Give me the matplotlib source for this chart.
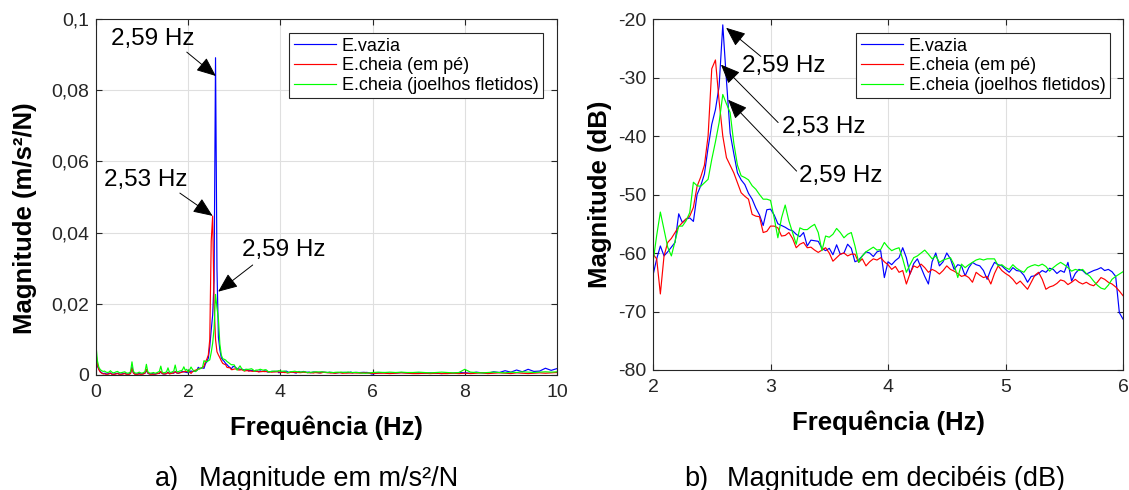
import numpy as np
import matplotlib
matplotlib.use("Agg")
import matplotlib.pyplot as plt
from matplotlib.ticker import FuncFormatter

plt.rcParams['font.family'] = ['Liberation Sans', 'DejaVu Sans']

labels = ["E.vazia", "E.cheia (em pé)", "E.cheia (joelhos fletidos)"]
colors = ["#0000ff", "#ff0000", "#00ff00"]

# frequency resolution of the FRF (Hz)
DF = 1 / 32

# 0 - 2 Hz, magnitude in 1e-3 m/s²/N (step DF)
mag_low_vazia = [4.5, 2.5, 1.6, 1.0, 0.6, 0.4, 0.5, 0.3, 0.3, 0.4, 0.6, 0.3, 0.2, 0.3, 0.4, 0.5,
                 0.3, 0.2, 0.3, 0.4, 0.5, 0.3, 0.2, 0.3, 0.5, 2.2, 0.6, 0.3, 0.2, 0.3, 0.4, 0.3,
                 0.3, 0.4, 0.5, 1.3, 0.5, 0.3, 0.3, 0.4, 0.3, 0.2, 0.4, 0.5, 0.4, 0.9, 0.4, 0.3,
                 0.3, 0.4, 0.8, 0.4, 0.5, 0.6, 0.5, 1.0, 0.6, 0.5, 0.6, 0.8, 1.0, 0.9, 0.8, 0.7]
mag_low_empe = [6.2, 3.0, 1.5, 0.8, 0.5, 0.3, 0.3, 0.2, 0.2, 0.3, 0.5, 0.2, 0.2, 0.2, 0.3, 0.4,
                0.2, 0.2, 0.2, 0.3, 0.4, 0.2, 0.2, 0.2, 0.4, 1.9, 0.5, 0.2, 0.2, 0.2, 0.3, 0.2,
                0.2, 0.3, 0.5, 1.6, 0.6, 0.3, 0.2, 0.2, 0.2, 0.3, 0.3, 0.4, 0.5, 1.0, 0.4, 0.3,
                0.3, 0.4, 0.7, 0.3, 0.4, 0.5, 0.6, 0.9, 0.6, 0.5, 0.6, 0.7, 0.8, 0.9, 1.0, 0.9]
mag_low_joelhos = [8.5, 4.0, 2.2, 1.5, 1.2, 1.0, 1.1, 0.8, 0.7, 0.8, 1.2, 0.8, 0.6, 0.7, 0.9, 1.0,
                   0.7, 0.6, 0.7, 0.8, 0.9, 0.6, 0.5, 0.6, 0.9, 3.7, 1.0, 0.6, 0.5, 0.6, 0.8, 0.6,
                   0.5, 0.7, 0.9, 3.0, 0.9, 0.6, 0.5, 0.6, 0.7, 0.5, 0.6, 0.8, 1.0, 2.5, 0.8, 0.6,
                   0.7, 0.9, 2.0, 0.8, 0.7, 0.9, 1.1, 2.8, 1.0, 0.9, 1.1, 1.2, 1.4, 2.3, 1.3, 1.6]

# 2 - 6 Hz, magnitude in dB (step DF)
db_vazia = [-63.8, -61.0, -58.8, -60.5, -59.8, -59.0, -58.2, -53.3,
            -54.8, -54.2, -54.0, -54.6, -50.0, -48.5, -46.5, -42.0,
            -38.0, -35.5, -31.5, -21.0, -30.5, -39.5, -43.0, -46.3,
            -47.5, -48.3, -49.8, -50.8, -52.3, -53.5, -55.3, -52.6,
            -52.5, -53.5, -55.0, -55.3, -55.6, -56.0, -56.2, -56.8,
            -57.2, -56.5, -58.8, -57.8, -57.9, -58.0, -59.2, -59.6,
            -59.2, -60.3, -58.6, -60.2, -60.0, -58.5, -59.2, -61.5,
            -61.2, -60.5, -59.8, -60.0, -60.6, -59.8, -59.6, -64.2,
            -61.5, -62.0, -61.3, -60.8, -59.1, -60.8, -63.6, -61.8,
            -61.0, -62.5, -64.0, -65.3, -61.5, -60.0, -62.2, -61.5,
            -60.0, -61.0, -62.8, -62.0, -62.2, -63.9, -62.5, -61.6,
            -62.0, -62.2, -63.0, -64.5, -62.8, -61.6, -62.0, -62.2,
            -62.8, -63.3, -62.5, -63.0, -63.1, -63.8, -65.0, -64.0,
            -63.9, -63.5, -63.0, -63.3, -62.6, -62.8, -63.5, -63.0,
            -63.3, -61.6, -64.8, -63.5, -62.8, -63.0, -63.6, -63.3,
            -63.0, -62.8, -62.5, -63.0, -62.8, -63.2, -64.0, -70.2,
            -71.3]
db_empe = [-60.2, -61.0, -67.0, -60.5, -58.2, -57.5, -56.5, -55.5,
           -54.8, -54.2, -53.7, -52.2, -48.6, -47.0, -45.0, -40.0,
           -28.5, -27.0, -34.0, -40.0, -43.7, -45.0, -46.3, -48.0,
           -49.7, -50.3, -50.8, -53.4, -53.7, -53.8, -56.5, -56.3,
           -55.4, -55.4, -55.7, -57.1, -57.0, -56.5, -57.5, -59.1,
           -58.5, -58.2, -59.1, -59.0, -59.5, -59.9, -59.5, -59.1,
           -60.0, -61.4, -60.8, -60.2, -60.0, -60.5, -60.2, -60.2,
           -61.6, -61.0, -62.2, -61.5, -61.0, -61.2, -60.8, -61.5,
           -62.0, -62.8, -62.3, -63.3, -63.0, -65.3, -63.5, -62.2,
           -62.5, -61.9, -62.5, -63.3, -62.8, -63.1, -63.6, -63.0,
           -62.2, -62.8, -63.1, -63.5, -64.0, -63.8, -64.2, -65.0,
           -63.3, -63.8, -64.2, -64.0, -65.3, -63.5, -62.2, -63.0,
           -63.5, -63.9, -64.5, -65.3, -64.8, -65.5, -66.2, -65.0,
           -63.8, -63.3, -64.5, -66.2, -65.8, -65.6, -65.2, -64.6,
           -64.8, -65.4, -65.0, -64.5, -65.0, -65.3, -65.0, -65.4,
           -65.6, -65.0, -64.2, -64.5, -65.0, -65.3, -65.8, -66.5,
           -67.3]
db_joelhos = [-61.6, -57.0, -53.0, -56.0, -59.0, -60.5, -58.0, -55.4,
              -55.4, -54.5, -53.1, -47.9, -48.5, -48.6, -48.0, -47.4,
              -44.0, -41.0, -37.7, -32.9, -34.5, -36.0, -41.2, -45.0,
              -46.8, -47.1, -47.5, -48.5, -49.1, -50.0, -50.8, -50.8,
              -51.0, -54.0, -57.4, -54.0, -51.8, -54.5, -56.5, -58.5,
              -55.7, -56.0, -56.0, -55.5, -55.1, -56.5, -59.6, -57.1,
              -57.3, -56.8, -55.8, -56.5, -57.4, -56.8, -56.5, -58.8,
              -61.6, -60.5, -59.8, -59.4, -59.0, -59.5, -59.4, -58.2,
              -59.0, -59.6, -59.3, -59.1, -61.0, -63.3, -62.0, -60.8,
              -60.5, -60.0, -59.5, -60.2, -61.0, -60.5, -61.6, -61.2,
              -61.0, -60.8, -62.0, -64.2, -61.9, -62.5, -62.0, -61.6,
              -61.2, -61.0, -61.2, -61.0, -61.0, -61.0, -62.2, -62.0,
              -62.5, -62.8, -62.0, -62.6, -63.0, -63.3, -62.5, -62.2,
              -62.0, -62.2, -61.9, -62.3, -63.1, -62.5, -62.0, -61.6,
              -62.0, -62.5, -63.1, -62.8, -63.0, -62.8, -63.5, -64.0,
              -64.8, -65.5, -66.0, -66.2, -65.5, -64.5, -64.0, -63.6,
              -63.2]

# 6 - 10 Hz, magnitude in 1e-3 m/s²/N (step 1/8 Hz, from 6.125)
mag_high_vazia = [0.6, 0.7, 0.5, 0.6, 0.7, 0.6, 0.5, 0.6, 0.5, 0.6, 0.5, 0.4, 0.6, 0.5, 0.7, 0.6,
                  0.5, 0.8, 0.6, 0.5, 0.9, 0.7, 1.2, 0.8, 1.4, 0.9, 1.6, 1.0, 1.1, 1.9, 1.3, 1.8]
mag_high_empe = [0.5, 0.5, 0.4, 0.5, 0.6, 0.5, 0.4, 0.4, 0.5, 0.4, 0.5, 0.4, 0.4, 0.5, 0.4, 0.5,
                 0.4, 0.5, 0.6, 0.4, 0.5, 0.6, 0.5, 0.4, 0.6, 0.5, 0.4, 0.5, 0.6, 0.5, 0.6, 0.7]
mag_high_joelhos = [0.8, 0.7, 0.8, 0.7, 0.8, 0.7, 0.7, 0.8, 0.7, 0.6, 0.7, 0.8, 0.7, 0.6, 0.7, 1.6,
                    0.8, 0.7, 0.6, 0.7, 0.8, 0.7, 0.6, 0.8, 0.7, 0.9, 0.8, 0.7, 0.8, 0.9, 0.8, 0.9]

f_low = np.arange(len(mag_low_vazia)) * DF
f_mid = 2 + np.arange(len(db_vazia)) * DF
f_high = 6 + (np.arange(len(mag_high_vazia)) + 1) / 8

mag_low = [mag_low_vazia, mag_low_empe, mag_low_joelhos]
db_mid = [db_vazia, db_empe, db_joelhos]
mag_high = [mag_high_vazia, mag_high_empe, mag_high_joelhos]

# peak annotations: (text, text centre, arrow tail, arrow head) in data coords
ann_left = [
    ("2,59 Hz", (1.23, 0.0945), (1.97, 0.0907), (2.60, 0.084)),
    ("2,53 Hz", (1.09, 0.0548), (1.82, 0.0511), (2.53, 0.0447)),
    ("2,59 Hz", (4.08, 0.0351), (3.40, 0.0309), (2.65, 0.0234)),
]
ann_right = [
    ("2,59 Hz", (3.116, -28.0), (2.918, -26.4), (2.622, -21.5)),
    ("2,53 Hz", (3.457, -38.4), (3.065, -37.7), (2.578, -27.8)),
    ("2,59 Hz", (3.60, -46.9), (3.222, -46.0), (2.639, -33.8)),
]

EDGE = "#262626"
GRID = "#dfdfdf"


def comma(v, pos):
    return ("%g" % v).replace(".", ",")


def style_axes(ax):
    ax.grid(True, color=GRID, linewidth=0.8)
    ax.set_axisbelow(True)
    for s in ax.spines.values():
        s.set_color(EDGE)
        s.set_linewidth(0.8)
    ax.tick_params(direction="in", length=4, width=0.8, color=EDGE,
                   labelcolor=EDGE, labelsize=14, top=True, right=True)
    ax.tick_params(axis="x", pad=6.5)
    ax.tick_params(axis="y", pad=5)
    ax.yaxis.set_major_formatter(FuncFormatter(comma))
    ax.xaxis.set_major_formatter(FuncFormatter(comma))


def annotate(ax, items):
    for txt, pos, tail, head in items:
        ax.annotate("", xy=head, xytext=tail,
                    arrowprops=dict(arrowstyle="-|>,head_length=1.0,head_width=0.42",
                                    mutation_scale=12, color="black", lw=0.7,
                                    shrinkA=0, shrinkB=0))
        ax.text(pos[0], pos[1], txt, fontsize=17.5, ha="center", va="center", color="black")


fig = plt.figure(figsize=(11.29, 4.9), dpi=100)
ax1 = fig.add_axes([0.0850, 0.2347, 0.4083, 0.7265])
ax2 = fig.add_axes([0.5784, 0.2449, 0.4163, 0.7163])

# a) linear magnitude
for i in range(3):
    f = np.concatenate([f_low, f_mid, f_high])
    m = np.concatenate([np.array(mag_low[i]) * 1e-3,
                        10 ** (np.array(db_mid[i]) / 20),
                        np.array(mag_high[i]) * 1e-3])
    ax1.plot(f, m, color=colors[i], lw=0.85, label=labels[i])
ax1.set_xlim(0, 10)
ax1.set_ylim(0, 0.1)
ax1.set_xticks([0, 2, 4, 6, 8, 10])
ax1.set_yticks([0, 0.02, 0.04, 0.06, 0.08, 0.1])
style_axes(ax1)
ax1.set_xlabel("Frequência (Hz)", fontsize=18.5, fontweight="bold", color="black")
ax1.set_ylabel("Magnitude (m/s²/N)", fontsize=18.5, fontweight="bold", color="black")
ax1.xaxis.set_label_coords(0.5, -0.115)
ax1.yaxis.set_label_coords(-0.128, 0.44)
annotate(ax1, ann_left)

# b) magnitude in dB
for i in range(3):
    ax2.plot(f_mid, db_mid[i], color=colors[i], lw=0.85, label=labels[i])
ax2.set_xlim(2, 6)
ax2.set_ylim(-80, -20)
ax2.set_xticks([2, 3, 4, 5, 6])
ax2.set_yticks([-80, -70, -60, -50, -40, -30, -20])
style_axes(ax2)
ax2.set_xlabel("Frequência (Hz)", fontsize=18.5, fontweight="bold", color="black")
ax2.set_ylabel("Magnitude (dB)", fontsize=18.5, fontweight="bold", color="black")
ax2.xaxis.set_label_coords(0.5, -0.115)
ax2.yaxis.set_label_coords(-0.088, 0.5)
annotate(ax2, ann_right)

for ax, anchor in [(ax1, (0.9696, 0.9607)), (ax2, (0.972, 0.960))]:
    leg = ax.legend(loc="upper right", bbox_to_anchor=anchor, borderaxespad=0,
                    fontsize=13, fancybox=False, framealpha=1, edgecolor=EDGE,
                    handlelength=2.35, handletextpad=0.3, labelspacing=0.15,
                    borderpad=0.25)
    leg.get_frame().set_linewidth(0.8)

fig.text(154.5 / 1129, 0.008, "a)", fontsize=19.5, va="baseline", ha="left")
fig.text(199 / 1129, 0.008, "Magnitude em m/s²/N", fontsize=19.5, va="baseline", ha="left")
fig.text(684 / 1129, 0.008, "b)", fontsize=19.5, va="baseline", ha="left")
fig.text(727 / 1129, 0.008, "Magnitude em decibéis (dB)", fontsize=19.5, va="baseline", ha="left")

fig.savefig("out.png", dpi=100)
